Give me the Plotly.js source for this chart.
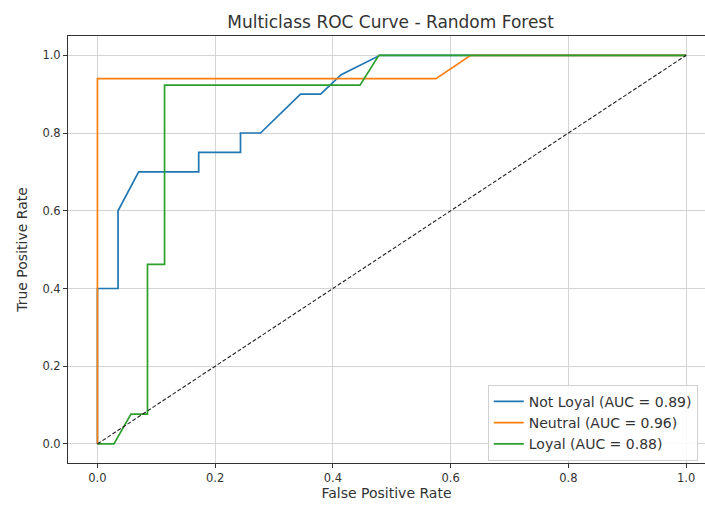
<!DOCTYPE html>
<html>
<head>
<meta charset="utf-8">
<script src="https://cdn.plot.ly/plotly-3.0.1.min.js"></script>
<style>html,body{margin:0;padding:0;background:#fff;}</style>
</head>
<body>
<div id="chart" style="width:705px;height:505px;"></div>
<script>
// Data
const seriesNames = ["Not Loyal (AUC = 0.89)", "Neutral (AUC = 0.96)", "Loyal (AUC = 0.88)"];
const notLoyalFPR = [0, 0, 0.035, 0.035, 0.070, 0.172, 0.172, 0.243, 0.243, 0.277, 0.345, 0.379, 0.414, 0.480, 1.0];
const notLoyalTPR = [0, 0.40, 0.40, 0.60, 0.70, 0.70, 0.75, 0.75, 0.80, 0.80, 0.90, 0.90, 0.95, 1.0, 1.0];
const neutralFPR = [0, 0, 0.575, 0.634, 1.0];
const neutralTPR = [0, 0.94, 0.94, 1.0, 1.0];
const loyalFPR = [0, 0.028, 0.057, 0.085, 0.085, 0.114, 0.114, 0.446, 0.478, 1.0];
const loyalTPR = [0, 0, 0.077, 0.077, 0.462, 0.462, 0.923, 0.923, 1.0, 1.0];
const chanceX = [0, 1];
const chanceY = [0, 1];
const tickVals = [0, 0.2, 0.4, 0.6, 0.8, 1.0];
const tickText = ["0.0", "0.2", "0.4", "0.6", "0.8", "1.0"];
const colors = ["#1f77b4", "#ff7f0e", "#2ca02c"];

const traces = [
  {x: notLoyalFPR, y: notLoyalTPR, name: seriesNames[0], mode: "lines", line: {color: colors[0], width: 1.7}},
  {x: neutralFPR, y: neutralTPR, name: seriesNames[1], mode: "lines", line: {color: colors[1], width: 1.7}},
  {x: loyalFPR, y: loyalTPR, name: seriesNames[2], mode: "lines", line: {color: colors[2], width: 1.7}},
  {x: chanceX, y: chanceY, mode: "lines", showlegend: false, line: {color: "#222", width: 1.1, dash: "4px,2px"}}
];

const font = "DejaVu Sans, sans-serif";
const axisCommon = {
  tickvals: tickVals, ticktext: tickText,
  showgrid: true, gridcolor: "#cfcfcf", gridwidth: 0.9,
  zeroline: false, showline: true, linecolor: "#333", linewidth: 1,
  ticks: "outside", ticklen: 4, tickcolor: "#333", tickwidth: 1,
  tickfont: {family: font, size: 11.5, color: "#333"}
};

const layout = {
  width: 705, height: 505,
  margin: {l: 68, r: 0, t: 36, b: 42},
  paper_bgcolor: "#fff", plot_bgcolor: "#fff",
  font: {family: font, color: "#333"},
  title: {text: "Multiclass ROC Curve - Random Forest", font: {family: font, size: 17, color: "#333"},
          xref: "container", x: 0.554, xanchor: "center", yref: "container", y: 0.956, yanchor: "middle"},
  xaxis: Object.assign({}, axisCommon, {range: [-0.05, 1.032], mirror: true,
          title: {text: "False Positive Rate", font: {family: font, size: 14, color: "#333"}, standoff: 3}}),
  yaxis: Object.assign({}, axisCommon, {range: [-0.049, 1.0496], mirror: false,
          title: {text: "True Positive Rate", font: {family: font, size: 14, color: "#333"}, standoff: 11}}),
  showlegend: true,
  legend: {x: 0.659, xanchor: "left", y: 0.005, yanchor: "bottom",
           bgcolor: "rgba(255,255,255,0.85)", bordercolor: "#d0d0d0", borderwidth: 1,
           font: {family: font, size: 14, color: "#333"}, itemwidth: 30, tracegroupgap: 0}
};

Plotly.newPlot("chart", traces, layout, {staticPlot: true, displayModeBar: false});
</script>
</body>
</html>
